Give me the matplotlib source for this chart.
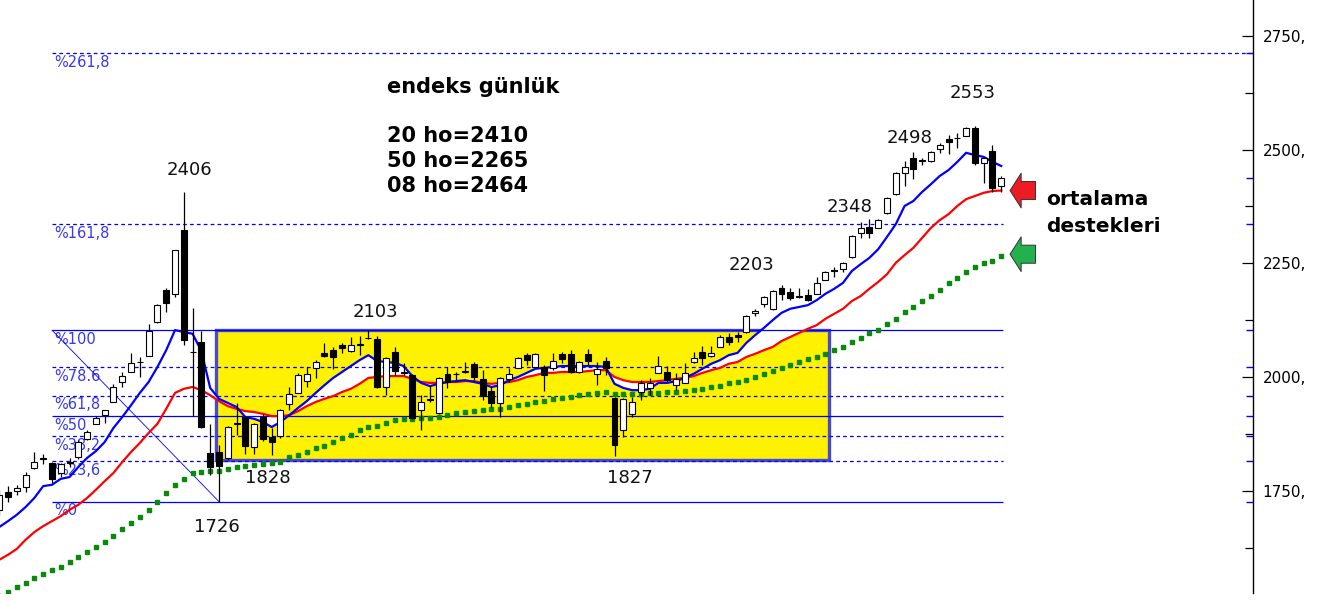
import matplotlib
matplotlib.use('Agg')
import matplotlib.pyplot as plt
import numpy as np
from matplotlib.patches import Rectangle
from matplotlib.ticker import FixedLocator, FuncFormatter

# daily candles (oldest first)
opens = [1708, 1747, 1749, 1758, 1800, 1821, 1811, 1789, 1812, 1824,
         1864, 1897, 1916, 1945, 1989, 2011, 2034, 2046, 2121, 2191,
         2183, 2323, 2056, 2077, 1833, 1835, 1822, 1898, 1912, 1846,
         1912, 1868, 1870, 1941, 1965, 1991, 2020, 2053, 2059, 2070,
         2057, 2073, 2086, 2084, 1978, 2055, 2010, 2004, 1927, 1952,
         1921, 2007, 2007, 2014, 2029, 1996, 1969, 1943, 1996, 2020,
         2048, 2022, 2022, 2020, 2051, 2051, 2011, 2051, 2007, 2035,
         1954, 1883, 1919, 1967, 1976, 2009, 2011, 1982, 1987, 2033,
         2055, 2046, 2066, 2088, 2092, 2099, 2141, 2161, 2150, 2196,
         2187, 2178, 2180, 2183, 2213, 2236, 2237, 2264, 2317, 2330,
         2328, 2361, 2402, 2449, 2482, 2478, 2475, 2501, 2523, 2525,
         2530, 2548, 2471, 2497, 2420]
highs = [1752, 1760, 1763, 1791, 1835, 1831, 1813, 1811, 1822, 1861,
         1883, 1914, 1927, 1985, 2011, 2053, 2044, 2117, 2160, 2196,
         2280, 2406, 2152, 2101, 1897, 1850, 1892, 1943, 1914, 1899,
         1919, 1888, 1929, 1978, 2009, 2022, 2037, 2075, 2066, 2075,
         2088, 2090, 2103, 2090, 2044, 2066, 2031, 2006, 1960, 1982,
         2000, 2022, 2011, 2033, 2033, 2015, 1978, 2000, 2020, 2044,
         2053, 2053, 2026, 2053, 2055, 2059, 2035, 2062, 2033, 2044,
         1956, 1954, 1956, 1993, 1998, 2046, 2024, 2009, 2031, 2055,
         2068, 2068, 2092, 2097, 2099, 2136, 2150, 2178, 2191, 2203,
         2196, 2196, 2194, 2220, 2233, 2242, 2253, 2312, 2341, 2347,
         2348, 2396, 2451, 2475, 2495, 2482, 2497, 2515, 2532, 2537,
         2550, 2553, 2484, 2510, 2442]
lows = [1697, 1725, 1741, 1747, 1798, 1809, 1767, 1780, 1802, 1820,
        1861, 1897, 1899, 1945, 1978, 2011, 2000, 2046, 2119, 2143,
        2176, 2070, 1914, 1888, 1785, 1726, 1817, 1872, 1831, 1831,
        1859, 1828, 1866, 1927, 1965, 1978, 1998, 2044, 2018, 2053,
        2055, 2048, 2083, 1976, 1960, 2004, 2004, 1908, 1883, 1945,
        1919, 1976, 1993, 2009, 1993, 1949, 1934, 1912, 1989, 2020,
        2026, 2020, 1969, 2015, 2031, 2009, 2009, 2026, 1982, 2004,
        1827, 1868, 1912, 1949, 1960, 2009, 1989, 1971, 1987, 2031,
        2026, 2044, 2066, 2070, 2077, 2097, 2134, 2154, 2148, 2169,
        2169, 2174, 2167, 2183, 2213, 2220, 2231, 2262, 2306, 2306,
        2328, 2359, 2400, 2420, 2435, 2466, 2473, 2493, 2490, 2504,
        2530, 2467, 2427, 2407, 2407]
closes = [1741, 1736, 1756, 1785, 1813, 1819, 1776, 1809, 1811, 1857,
          1879, 1910, 1927, 1978, 2002, 2031, 2032, 2101, 2158, 2163,
          2279, 2081, 2054, 1890, 1802, 1804, 1890, 1896, 1848, 1897,
          1864, 1857, 1927, 1963, 2004, 2007, 2033, 2046, 2044, 2064,
          2070, 2070, 2085, 1978, 2042, 2013, 2008, 1910, 1945, 1950,
          1998, 1989, 2006, 2012, 2000, 1958, 1943, 1998, 2007, 2042,
          2037, 2051, 2004, 2035, 2040, 2011, 2033, 2035, 2018, 2020,
          1850, 1952, 1945, 1987, 1987, 2024, 1993, 1996, 2009, 2042,
          2042, 2053, 2088, 2077, 2088, 2134, 2145, 2176, 2189, 2183,
          2174, 2176, 2169, 2207, 2231, 2234, 2251, 2310, 2328, 2317,
          2345, 2394, 2449, 2462, 2457, 2476, 2495, 2510, 2517, 2526,
          2548, 2471, 2482, 2416, 2438]

# moving averages as drawn on the chart (8, 20, 50 day)
ma08 = [1670, 1683, 1697, 1714, 1734, 1760, 1763, 1776, 1780, 1802,
        1822, 1837, 1857, 1888, 1912, 1938, 1965, 1989, 2022, 2059,
        2103, 2099, 2095, 2057, 1976, 1952, 1943, 1934, 1912, 1908,
        1901, 1890, 1901, 1916, 1932, 1947, 1965, 1982, 1998, 2011,
        2024, 2037, 2048, 2035, 2033, 2031, 2024, 2002, 1987, 1980,
        1985, 1989, 1991, 1993, 1989, 1985, 1978, 1982, 1993, 2000,
        2009, 2018, 2020, 2022, 2024, 2024, 2024, 2024, 2024, 2022,
        1985, 1976, 1971, 1971, 1974, 1987, 1987, 1991, 1998, 2007,
        2018, 2029, 2037, 2048, 2053, 2075, 2092, 2108, 2125, 2141,
        2150, 2154, 2158, 2169, 2183, 2194, 2207, 2233, 2248, 2262,
        2281, 2308, 2336, 2376, 2387, 2407, 2424, 2442, 2455, 2473,
        2493, 2488, 2484, 2473, 2464]
ma20 = [1598, 1609, 1622, 1642, 1659, 1672, 1683, 1694, 1708, 1719,
        1734, 1752, 1771, 1789, 1813, 1835, 1855, 1877, 1897, 1930,
        1965, 1974, 1978, 1971, 1960, 1947, 1936, 1930, 1925, 1923,
        1919, 1914, 1914, 1916, 1925, 1936, 1945, 1952, 1958, 1967,
        1974, 1985, 1998, 2000, 2002, 2002, 2002, 1996, 1989, 1987,
        1987, 1989, 1989, 1991, 1991, 1987, 1985, 1987, 1989, 1993,
        2000, 2004, 2009, 2009, 2011, 2011, 2011, 2013, 2015, 2015,
        2000, 1993, 1989, 1989, 1989, 1991, 1993, 1996, 1998, 2002,
        2009, 2015, 2020, 2029, 2033, 2044, 2051, 2059, 2066, 2079,
        2088, 2097, 2106, 2114, 2128, 2139, 2150, 2167, 2178, 2194,
        2209, 2226, 2251, 2268, 2284, 2306, 2328, 2345, 2358, 2376,
        2391, 2398, 2405, 2409, 2410]
ma50 = [1518, 1527, 1538, 1547, 1558, 1567, 1576, 1582, 1593, 1604,
        1615, 1626, 1637, 1650, 1666, 1679, 1692, 1708, 1725, 1745,
        1763, 1776, 1789, 1791, 1793, 1793, 1798, 1802, 1804, 1806,
        1809, 1811, 1813, 1824, 1828, 1835, 1844, 1848, 1857, 1866,
        1872, 1883, 1890, 1892, 1899, 1905, 1908, 1908, 1910, 1910,
        1912, 1916, 1921, 1923, 1925, 1927, 1930, 1930, 1934, 1938,
        1941, 1945, 1947, 1952, 1954, 1956, 1960, 1963, 1965, 1967,
        1963, 1963, 1963, 1963, 1965, 1965, 1967, 1967, 1969, 1971,
        1974, 1978, 1980, 1987, 1989, 1993, 2000, 2007, 2013, 2020,
        2026, 2033, 2040, 2044, 2051, 2059, 2066, 2077, 2086, 2097,
        2103, 2117, 2128, 2143, 2154, 2167, 2178, 2191, 2207, 2218,
        2231, 2242, 2251, 2255, 2265]

# fibonacci retracement from the 1726 low to the 2103 high
fib_low = 1726
fib_high = 2103
fib_ratios = [0, 23.6, 38.2, 50, 61.8, 78.6, 100, 161.8, 261.8]
fib_labels = ['%0', '%23,6', '%38,2', '%50', '%61,8', '%78.6', '%100',
              '%161,8', '%261,8']
fib_solid = [True, False, False, True, False, False, True, False, False]

peak_labels = ['2406', '2103', '1828', '1827', '1726', '2203', '2348', '2498', '2553']
peak_x = [21.6, 42.8, 30.6, 71.8, 24.8, 85.6, 96.7, 103.6, 110.7]
peak_y = [2455, 2143, 1778, 1778, 1670, 2246, 2374, 2526, 2625]

W, H = 1318, 610
fig = plt.figure(figsize=(W / 100, H / 100), dpi=100)
ax = fig.add_axes([0, 17 / H, 1253 / W, 1 - 17 / H])

idx = np.arange(len(closes))
o = np.array(opens)
c = np.array(closes)
up = c >= o

# yellow range box
box = Rectangle((24.7, 1817), 94.4 - 24.7, fib_high - 1817, facecolor='#FFF200',
                edgecolor='#4848D0', linewidth=2.4, zorder=1)
ax.add_patch(box)

# white band between the short averages
ax.fill_between(idx, ma08, ma20, color='white', linewidth=0, zorder=1.5)

# fibonacci levels
fib_start, fib_end = 6.0, 114.2
for r, lab, solid in zip(fib_ratios, fib_labels, fib_solid):
    lvl = fib_low + r / 100 * (fib_high - fib_low)
    x1 = 142.7 if r > 200 else fib_end
    ax.hlines(lvl, fib_start, x1, colors='#0000FF', linewidth=0.9,
              linestyles='-' if solid else (0, (3, 2.5)), zorder=2)
    ax.text(fib_start + 0.25, lvl - 4, lab, color='#3838EE', fontsize=10.5,
            va='top', ha='left', zorder=2)
ax.plot([fib_start, 25], [fib_high, fib_low], color='#0000FF', linewidth=0.6, zorder=2)

# moving averages
ax.plot(idx, ma50, linestyle='none', marker='s', markersize=3.0,
        color='#0A8A0A', zorder=3)
ax.plot(idx, ma20, color='#FF0000', linewidth=1.6, zorder=3)
ax.plot(idx, ma08, color='#0000FF', linewidth=1.6, zorder=3)

# candles
ax.vlines(idx, lows, highs, color='black', linewidth=0.9, zorder=4)
body_h = np.maximum(np.abs(c - o), 0.6)
ax.bar(idx, body_h, bottom=np.minimum(o, c), width=0.68,
       color=np.where(up, 'white', 'black'), edgecolor='black',
       linewidth=0.8, zorder=5)

for t, x, y in zip(peak_labels, peak_x, peak_y):
    ax.text(x, y, t, fontsize=13, ha='center', va='center', color='#111111')

# arrows pointing at the 20 and 50 day averages
for yv, col in [(ma20[-1], '#ED1C24'), (ma50[-1] + 5, '#22B14C')]:
    ax.annotate('', xy=(115.0, yv), xytext=(117.9, yv),
                arrowprops=dict(arrowstyle='simple,head_length=0.8,head_width=2.5,tail_width=1.3',
                                mutation_scale=10, fc=col, ec='#333333', lw=0.7,
                                shrinkA=0, shrinkB=0), zorder=6)

ax.set_xlim(0.09, 142.64)
ax.set_ylim(1525, 2829)
for s in ['top', 'left', 'bottom']:
    ax.spines[s].set_visible(False)
ax.spines['right'].set_linewidth(1.0)
ax.xaxis.set_visible(False)
ax.yaxis.tick_right()
ax.yaxis.set_major_locator(FixedLocator([1750, 2000, 2250, 2500, 2750]))
ax.yaxis.set_minor_locator(FixedLocator([1625, 1875, 2125, 2375, 2625]))
ax.yaxis.set_major_formatter(FuncFormatter(lambda v, p: f'{v:.0f},'))
ax.tick_params(axis='y', which='major', direction='in', length=8, width=0.9,
               labelsize=11, pad=7)
ax.tick_params(axis='y', which='minor', direction='in', length=6, width=0.9)
ax.patch.set_alpha(0)

fib_vals = [fib_low + r / 100 * (fib_high - fib_low) for r in fib_ratios]
ax.hlines(fib_vals + [closes[-1]], 0.9945, 1.0, colors='#0000FF', linewidth=1.0,
          transform=ax.get_yaxis_transform(), clip_on=False)

fig.text(387 / W, 1 - 87 / H, 'endeks günlük', fontsize=15, fontweight='bold', va='center')
fig.text(387 / W, 1 - 136 / H, '20 ho=2410', fontsize=15, fontweight='bold', va='center')
fig.text(387 / W, 1 - 161 / H, '50 ho=2265', fontsize=15, fontweight='bold', va='center')
fig.text(387 / W, 1 - 186 / H, '08 ho=2464', fontsize=15, fontweight='bold', va='center')
fig.text(1046 / W, 1 - 200 / H, 'ortalama', fontsize=14.5, fontweight='bold', va='center')
fig.text(1046 / W, 1 - 227 / H, 'destekleri', fontsize=14.5, fontweight='bold', va='center')

fig.savefig('out.png', dpi=100)
